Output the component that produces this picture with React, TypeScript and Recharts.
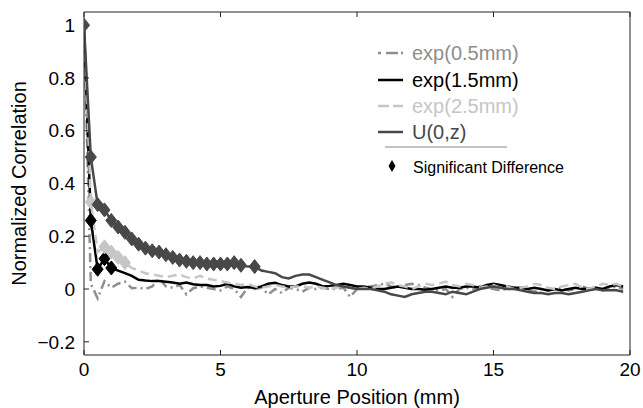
import React from 'react';
import { LineChart, Line, XAxis, YAxis, Label } from 'recharts';

// Aperture positions (mm)
const positions: number[] = [
  0, 0.25, 0.5, 0.75, 1, 1.25, 1.5, 1.75, 2, 2.25, 2.5, 2.75, 3, 3.25, 3.5, 3.75,
  4, 4.25, 4.5, 4.75, 5, 5.25, 5.5, 5.75, 6, 6.25, 6.5, 6.75, 7, 7.25, 7.5, 7.75,
  8, 8.25, 8.5, 8.75, 9, 9.25, 9.5, 9.75, 10, 10.25, 10.5, 10.75, 11, 11.25, 11.5, 11.75,
  12, 12.25, 12.5, 12.75, 13, 13.25, 13.5, 13.75, 14, 14.25, 14.5, 14.75, 15, 15.25, 15.5, 15.75,
  16, 16.25, 16.5, 16.75, 17, 17.25, 17.5, 17.75, 18, 18.25, 18.5, 18.75, 19, 19.25, 19.5, 19.75,
];

const exp05: number[] = [
  1.0, 0.02, -0.035, 0.03, 0.005, 0.02, 0.028, 0.003, 0.005, 0.0, 0.01, 0.04, 0.01, 0.005, 0.015, -0.02,
  0.003, 0.01, 0.005, 0.0, -0.005, 0.01, 0.0, -0.03, 0.005, 0.0, 0.005, -0.02, 0.0, -0.015, 0.005, 0.0,
  -0.01, 0.005, 0.0, 0.005, 0.0, 0.0, 0.005, -0.03, 0.0, 0.005, 0.01, 0.015, 0.02, 0.01, 0.005, 0.015,
  0.02, 0.015, 0.005, 0.0, -0.005, 0.0, -0.03, 0.0, 0.005, 0.0, 0.01, 0.005, 0.0, -0.005, 0.0, 0.005,
  0.0, -0.005, -0.01, 0.0, -0.005, 0.0, 0.005, -0.005, 0.0, 0.01, 0.0, 0.005, -0.005, 0.0, 0.01, 0.0,
];

const exp15: number[] = [
  1.0, 0.26, 0.075, 0.115, 0.08, 0.07, 0.06, 0.05, 0.035, 0.032, 0.03, 0.03, 0.028, 0.025, 0.02, 0.025,
  0.018, 0.015, 0.015, 0.01, 0.012, 0.02, 0.01, 0.005, 0.008, 0.004, 0.01, 0.02, 0.024, 0.015, 0.01, 0.01,
  0.02, 0.025, 0.02, 0.01, 0.012, 0.015, 0.02, 0.015, 0.01, 0.01, 0.005, 0.0, 0.0, 0.005, 0.01, 0.005,
  0.0, 0.0, -0.003, 0.0, 0.005, 0.01, 0.005, 0.005, 0.01, 0.01, 0.005, 0.015, 0.02, 0.015, 0.01, 0.005,
  0.005, 0.0, 0.005, 0.0, -0.005, 0.0, -0.005, 0.0, 0.005, 0.0, 0.0, 0.005, 0.0, 0.01, 0.015, 0.01,
];

const exp25: number[] = [
  1.0, 0.33, 0.14, 0.16, 0.14, 0.12, 0.1, 0.08, 0.07, 0.06, 0.055, 0.05, 0.045, 0.05, 0.055, 0.045,
  0.04, 0.05, 0.04, 0.035, 0.03, 0.025, 0.02, 0.015, 0.02, 0.01, 0.005, 0.01, 0.015, 0.01, 0.005, 0.01,
  0.01, 0.005, 0.01, 0.005, 0.0, 0.005, 0.01, 0.005, 0.0, 0.005, 0.0, 0.01, 0.02, 0.025, 0.015, 0.01,
  0.0, 0.01, 0.02, 0.015, 0.02, 0.028, 0.015, 0.01, 0.02, 0.015, 0.005, 0.01, 0.015, 0.005, 0.01, 0.0,
  0.005, 0.01, 0.02, 0.015, 0.005, 0.0, 0.01, 0.015, 0.02, 0.005, 0.0, 0.01, 0.02, 0.015, 0.02, 0.01,
];

const uniform: number[] = [
  1.0, 0.5, 0.32, 0.3, 0.26, 0.235, 0.215, 0.19, 0.17, 0.155, 0.145, 0.14, 0.13, 0.12, 0.11, 0.105,
  0.1, 0.1, 0.095, 0.095, 0.095, 0.095, 0.1, 0.09, 0.085, 0.085, 0.07, 0.065, 0.06, 0.045, 0.04, 0.05,
  0.055, 0.055, 0.045, 0.035, 0.025, 0.015, 0.01, 0.005, 0.0, 0.0, 0.0, -0.005, -0.01, -0.02, -0.025, -0.03,
  -0.02, -0.015, -0.01, -0.01, -0.015, -0.02, -0.01, -0.015, -0.02, -0.01, 0.0, 0.005, 0.01, 0.005, 0.0, 0.0,
  -0.005, -0.01, -0.015, -0.015, -0.02, -0.015, -0.015, -0.02, -0.015, -0.01, -0.005, 0.0, -0.005, -0.005, -0.005, -0.01,
];

// indices of points marked as significant difference
const sigExp05: number[] = [];
const sigExp15: number[] = [1, 2, 3, 4];
const sigExp25: number[] = [1, 3, 4, 5, 6];
const sigUniform: number[] = [0, 1, 2, 3, 4, 5, 6, 7, 8, 9, 10, 11, 12, 13, 14, 15, 16, 17, 18, 19, 20, 21, 22, 23, 25];

const xTicks: number[] = [0, 5, 10, 15, 20];
const yTicks: number[] = [-0.2, 0, 0.2, 0.4, 0.6, 0.8, 1];

const data = positions.map((x, i) => ({ x, e05: exp05[i], e15: exp15[i], e25: exp25[i], u: uniform[i] }));

const FONT = '"Liberation Sans", Arial, Helvetica, sans-serif';
const C05 = '#8e8e8e';
const C15 = '#000000';
const C25 = '#c6c6c6';
const CU = '#484848';

const diamondDot = (sig: number[], color: string) => (props: any) => {
  const { cx, cy, index } = props;
  if (cx == null || cy == null || !sig.includes(index)) return <g key={`n${index}`} />;
  return (
    <polygon
      key={`d${index}`}
      points={`${cx},${cy - 7} ${cx + 5.5},${cy} ${cx},${cy + 7} ${cx - 5.5},${cy}`}
      fill={color}
      stroke={color}
      strokeWidth={1}
    />
  );
};

const fmtY = (v: number) => (v < 0 ? '\u2212' + Math.abs(v).toString() : v.toString());

const Empty = () => <g />;

export default function App() {
  return (
    <div style={{ position: 'absolute', left: 0, top: 0, width: 643, height: 408, background: '#fff' }}>
      <LineChart width={643} height={408} data={data} margin={{ top: 11, right: 12, bottom: 0, left: 0 }}>
        <XAxis
          xAxisId="b"
          dataKey="x"
          type="number"
          domain={[0, 20]}
          ticks={xTicks}
          height={53}
          tickSize={-5}
          tickMargin={13}
          stroke="#222"
          tick={{ fill: '#000', fontSize: 19, fontFamily: FONT }}
          allowDataOverflow
        >
          <Label
            value="Aperture Position (mm)"
            position="insideBottom"
            offset={4}
            style={{ fill: '#000', fontSize: 20, fontFamily: FONT }}
          />
        </XAxis>
        <XAxis
          xAxisId="t"
          orientation="top"
          dataKey="x"
          type="number"
          domain={[0, 20]}
          ticks={xTicks}
          height={1}
          tickSize={-5}
          stroke="#222"
          tick={Empty}
        />
        <YAxis
          yAxisId="l"
          type="number"
          domain={[-0.25, 1.05]}
          ticks={yTicks}
          width={84}
          tickSize={-5}
          tickMargin={14}
          stroke="#222"
          tickFormatter={fmtY}
          tick={{ fill: '#000', fontSize: 19, fontFamily: FONT }}
          allowDataOverflow
        >
          <Label
            content={(p: any) => {
              const vb = p.viewBox;
              const cx = 19;
              const cy = vb.y + vb.height / 2;
              return (
                <text
                  x={cx}
                  y={cy}
                  transform={`rotate(-90, ${cx}, ${cy})`}
                  textAnchor="middle"
                  dominantBaseline="central"
                  style={{ fill: '#000', fontSize: 20, fontFamily: FONT }}
                >
                  Normalized Correlation
                </text>
              );
            }}
          />
        </YAxis>
        <YAxis
          yAxisId="r"
          orientation="right"
          type="number"
          domain={[-0.25, 1.05]}
          ticks={yTicks}
          width={1}
          tickSize={-5}
          stroke="#222"
          tick={Empty}
        />
        <Line xAxisId="b" yAxisId="l" type="linear" dataKey="e05" stroke={C05} strokeWidth={2.5}
          strokeDasharray="9 4 2 4" dot={diamondDot(sigExp05, C05)} activeDot={false} isAnimationActive={false} />
        <Line xAxisId="b" yAxisId="l" type="linear" dataKey="e15" stroke={C15} strokeWidth={2.5}
          dot={diamondDot(sigExp15, C15)} activeDot={false} isAnimationActive={false} />
        <Line xAxisId="b" yAxisId="l" type="linear" dataKey="e25" stroke={C25} strokeWidth={2.5}
          strokeDasharray="9 5" dot={diamondDot(sigExp25, C25)} activeDot={false} isAnimationActive={false} />
        <Line xAxisId="b" yAxisId="l" type="linear" dataKey="u" stroke={CU} strokeWidth={2.5}
          dot={diamondDot(sigUniform, CU)} activeDot={false} isAnimationActive={false} />
      </LineChart>
      <svg
        width={300}
        height={170}
        style={{ position: 'absolute', left: 340, top: 20, pointerEvents: 'none' }}
      >
        <g style={{ fontFamily: FONT, fontSize: 20 }}>
          <line x1={38} x2={63} y1={33} y2={33} stroke={C05} strokeWidth={2.5} strokeDasharray="3 5 12 3 3" />
          <text x={72} y={40} fill={C05}>exp(0.5mm)</text>
          <line x1={38} x2={63} y1={60} y2={60} stroke={C15} strokeWidth={2.5} />
          <text x={72} y={67} fill={C15}>exp(1.5mm)</text>
          <line x1={38} x2={63} y1={86} y2={86} stroke={C25} strokeWidth={2.5} strokeDasharray="11 4" />
          <text x={72} y={93} fill={C25}>exp(2.5mm)</text>
          <line x1={38} x2={63} y1={112} y2={112} stroke={CU} strokeWidth={2.5} />
          <text x={72} y={119} fill={CU}>U(0,z)</text>
          <line x1={45} x2={167} y1={127} y2={127} stroke="#888" strokeWidth={1} />
          <polygon points="52,140 55.5,146 52,152 48.5,146" fill="#000" />
          <text x={73} y={153} fill="#000" style={{ fontSize: 16 }}>Significant Difference</text>
        </g>
      </svg>
    </div>
  );
}
